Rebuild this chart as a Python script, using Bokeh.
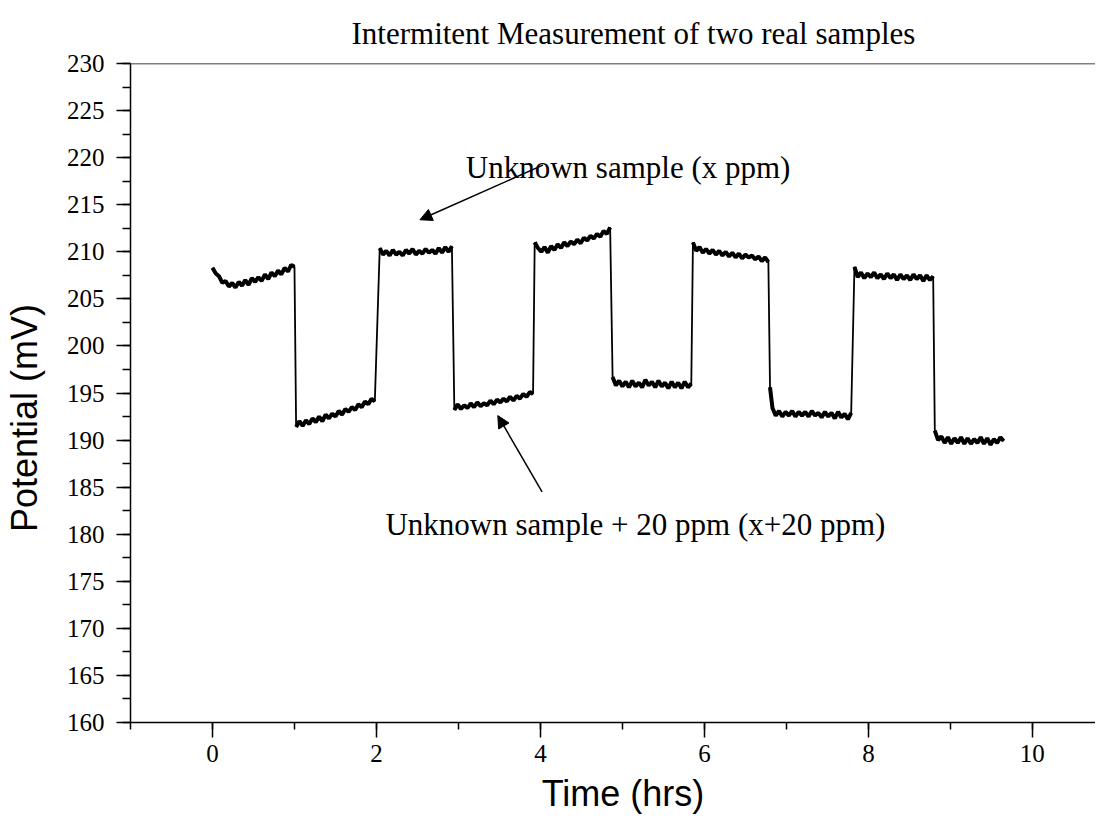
from bokeh.plotting import figure
from bokeh.models import Range1d, SingleIntervalTicker, Span, Arrow, NormalHead, Label
from bokeh.embed import file_html
from bokeh.resources import INLINE

# ---- data (time in hours, potential in mV) ----
t1 = [0.00, 0.04, 0.08, 0.12, 0.16, 0.20, 0.24, 0.28, 0.32, 0.36, 0.40, 0.44, 0.48,
      0.52, 0.56, 0.60, 0.64, 0.68, 0.72, 0.76, 0.80, 0.84, 0.88, 0.92, 0.96, 1.00]
v1 = [208.3, 207.7, 207.4, 206.7, 206.9, 206.3, 206.7, 206.2, 206.8, 206.4, 207.0, 206.5, 207.2,
      206.8, 207.3, 206.9, 207.6, 207.1, 207.8, 207.4, 208.0, 207.6, 208.3, 207.9, 208.6, 208.4]
t2 = [1.02, 1.06, 1.10, 1.14, 1.18, 1.22, 1.26, 1.30, 1.34, 1.38, 1.42, 1.46, 1.50,
      1.54, 1.58, 1.62, 1.66, 1.70, 1.74, 1.78, 1.82, 1.86, 1.90, 1.94, 1.98]
v2 = [191.4, 192.0, 191.5, 192.1, 191.7, 192.3, 191.9, 192.5, 192.0, 192.7, 192.3, 192.8, 192.5,
      193.1, 192.7, 193.3, 193.0, 193.5, 193.2, 193.8, 193.5, 194.1, 193.8, 194.4, 194.1]
t3 = [2.04, 2.08, 2.12, 2.16, 2.20, 2.24, 2.28, 2.32, 2.36, 2.40, 2.44, 2.48,
      2.52, 2.56, 2.60, 2.64, 2.68, 2.72, 2.76, 2.80, 2.84, 2.88, 2.92]
v3 = [210.4, 209.7, 210.1, 209.6, 210.2, 209.7, 210.0, 209.6, 210.2, 209.8, 210.3, 209.7,
      210.1, 209.8, 210.3, 209.9, 210.2, 209.8, 210.4, 209.9, 210.5, 210.0, 210.6]
t4 = [2.95, 2.99, 3.03, 3.07, 3.11, 3.15, 3.19, 3.23, 3.27, 3.31, 3.35, 3.39, 3.43,
      3.47, 3.51, 3.55, 3.59, 3.63, 3.67, 3.71, 3.75, 3.79, 3.83, 3.87, 3.91]
v4 = [193.2, 193.8, 193.3, 193.7, 193.4, 193.9, 193.5, 194.0, 193.6, 193.9, 193.7, 194.2, 193.8,
      194.3, 194.0, 194.4, 194.1, 194.6, 194.2, 194.7, 194.4, 194.9, 194.6, 195.1, 194.9]
t5 = [3.93, 3.97, 4.01, 4.05, 4.09, 4.13, 4.17, 4.21, 4.25, 4.29, 4.33, 4.37,
      4.41, 4.45, 4.49, 4.53, 4.57, 4.61, 4.65, 4.69, 4.73, 4.77, 4.81, 4.85]
v5 = [211.0, 210.4, 210.0, 210.5, 209.9, 210.6, 210.2, 210.8, 210.4, 211.0, 210.6, 211.1,
      210.8, 211.3, 210.9, 211.5, 211.2, 211.7, 211.4, 211.9, 211.6, 212.2, 211.9, 212.6]
t6 = [4.88, 4.92, 4.96, 5.00, 5.04, 5.08, 5.12, 5.16, 5.20, 5.24, 5.28, 5.32, 5.36,
      5.40, 5.44, 5.48, 5.52, 5.56, 5.60, 5.64, 5.68, 5.72, 5.76, 5.80, 5.84]
v6 = [196.7, 195.8, 196.3, 195.7, 196.2, 195.6, 196.3, 195.7, 196.1, 195.6, 196.4, 195.8, 196.2,
      195.6, 196.3, 195.7, 196.1, 195.5, 196.2, 195.6, 196.1, 195.5, 196.2, 195.6, 196.0]
t7 = [5.86, 5.90, 5.94, 5.98, 6.02, 6.06, 6.10, 6.14, 6.18, 6.22, 6.26, 6.30,
      6.34, 6.38, 6.42, 6.46, 6.50, 6.54, 6.58, 6.62, 6.66, 6.70, 6.74, 6.78]
v7 = [211.0, 210.1, 210.5, 209.9, 210.3, 209.8, 210.2, 209.7, 210.1, 209.6, 210.0, 209.5,
      209.9, 209.4, 209.8, 209.3, 209.7, 209.4, 209.6, 209.2, 209.5, 209.0, 209.4, 208.9]
t8 = [6.80, 6.83, 6.87, 6.91, 6.95, 6.99, 7.03, 7.07, 7.11, 7.15, 7.19, 7.23, 7.27,
      7.31, 7.35, 7.39, 7.43, 7.47, 7.51, 7.55, 7.59, 7.63, 7.67, 7.71, 7.75, 7.79]
v8 = [195.6, 193.4, 192.6, 193.1, 192.5, 193.0, 192.6, 193.1, 192.5, 193.0, 192.6, 193.0, 192.5,
      193.1, 192.6, 192.9, 192.4, 193.0, 192.5, 192.9, 192.3, 193.0, 192.4, 192.8, 192.2, 192.9]
t9 = [7.83, 7.87, 7.91, 7.95, 7.99, 8.03, 8.07, 8.11, 8.15, 8.19, 8.23, 8.27, 8.31,
      8.35, 8.39, 8.43, 8.47, 8.51, 8.55, 8.59, 8.63, 8.67, 8.71, 8.75, 8.79]
v9 = [208.4, 207.3, 207.8, 207.2, 207.7, 207.3, 207.8, 207.2, 207.6, 207.1, 207.7, 207.2, 207.6,
      207.0, 207.6, 207.1, 207.5, 207.0, 207.6, 207.1, 207.5, 206.9, 207.5, 207.0, 207.4]
t10 = [8.81, 8.85, 8.89, 8.93, 8.97, 9.01, 9.05, 9.09, 9.13, 9.17, 9.21,
       9.25, 9.29, 9.33, 9.37, 9.41, 9.45, 9.49, 9.53, 9.57, 9.61, 9.65]
v10 = [191.0, 190.0, 190.4, 189.7, 190.3, 189.6, 190.2, 189.7, 190.3, 189.6, 190.2,
       189.6, 190.1, 189.7, 190.3, 189.6, 190.2, 189.5, 190.1, 189.7, 190.3, 189.9]

seg_times = [t1, t2, t3, t4, t5, t6, t7, t8, t9, t10]
seg_values = [v1, v2, v3, v4, v5, v6, v7, v8, v9, v10]
time_hrs = [t for seg in seg_times for t in seg]
potential_mv = [v for seg in seg_values for v in seg]

note_texts = ["Unknown sample (x ppm)", "Unknown sample + 20 ppm (x+20 ppm)"]
note_x = [3.09, 2.11]
note_y = [218.9, 181.0]
arrow_x0 = [4.03, 4.02]
arrow_y0 = [219.2, 184.5]
arrow_x1 = [2.53, 3.48]
arrow_y1 = [213.4, 192.6]

title_text = "Intermitent Measurement of two real samples"
x_label = "Time (hrs)"
y_label = "Potential (mV)"

serif = "Liberation Serif"
sans = "Liberation Sans"
NBSP = "\u00a0"

# ---- figure ----
p = figure(width=1095, height=820, x_range=Range1d(-1.0, 10.77), y_range=Range1d(160, 230),
           output_backend="svg", toolbar_location=None,
           min_border_left=126, min_border_right=0, min_border_top=63, min_border_bottom=98)
p.grid.visible = False
p.outline_line_color = None
p.background_fill_color = "white"
p.border_fill_color = "white"

p.title.text = title_text
p.title.text_font = serif
p.title.text_font_size = "31px"
p.title.text_font_style = "normal"
p.title.text_color = "black"
p.title.align = "left"
p.title.offset = 221
p.title.standoff = 26

xa = p.xaxis[0]
xa.ticker = SingleIntervalTicker(interval=2, num_minor_ticks=2)
xa.axis_label = NBSP * 2 + x_label
ya = p.yaxis[0]
ya.ticker = SingleIntervalTicker(interval=5, num_minor_ticks=2)
ya.axis_label = y_label + NBSP * 5

for ax in (xa, ya):
    ax.axis_line_color = "black"
    ax.axis_line_width = 1.5
    ax.major_tick_line_color = "black"
    ax.major_tick_line_width = 1.5
    ax.minor_tick_line_color = "black"
    ax.minor_tick_line_width = 1.5
    ax.major_tick_in = 0
    ax.minor_tick_in = 0
    ax.major_label_text_font = serif
    ax.major_label_text_font_size = "25px"
    ax.major_label_text_color = "black"
    ax.axis_label_text_font = sans
    ax.axis_label_text_font_size = "36px"
    ax.axis_label_text_font_style = "normal"
    ax.axis_label_text_color = "black"

xa.major_tick_out = 15
xa.minor_tick_out = 7
xa.major_label_standoff = 7
xa.axis_label_standoff = 8
ya.major_tick_out = 14
ya.minor_tick_out = 8
ya.major_label_standoff = 12
ya.axis_label_standoff = 19

# top border line
p.add_layout(Span(location=230, dimension="width", line_color="black", line_width=1.5))

# the trace: thin line through all points, thicker noisy plateaus
p.line(time_hrs, potential_mv, line_color="black", line_width=1.8)
p.multi_line(seg_times, seg_values, line_color="black", line_width=4)

for txt, tx, ty in zip(note_texts, note_x, note_y):
    p.add_layout(Label(x=tx, y=ty, text=txt, text_font=serif, text_font_size="31px",
                       text_color="black", text_baseline="alphabetic"))

for x0, y0, x1, y1 in zip(arrow_x0, arrow_y0, arrow_x1, arrow_y1):
    p.add_layout(Arrow(x_start=x0, y_start=y0, x_end=x1, y_end=y1, line_width=1.5,
                       line_color="black",
                       end=NormalHead(size=12, fill_color="black", line_color="black", line_width=1)))

open("out.html", "w").write(file_html(p, INLINE))
